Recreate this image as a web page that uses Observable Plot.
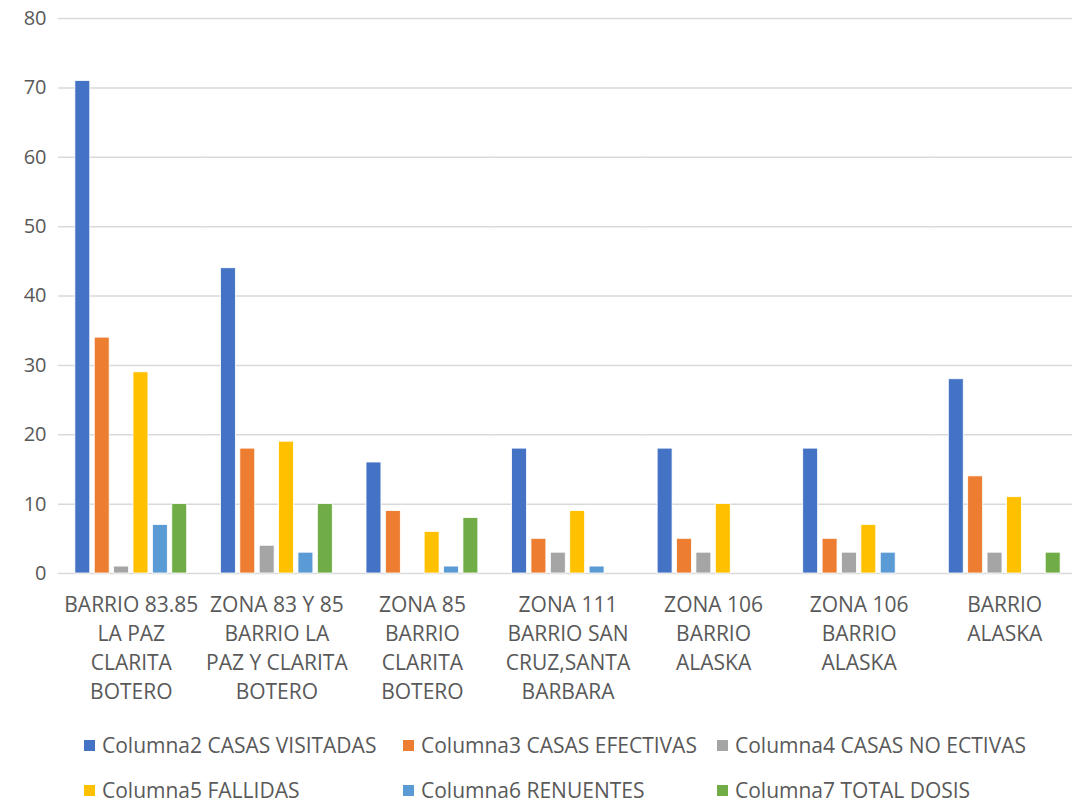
<!DOCTYPE html>
<html>
<head>
<meta charset="utf-8">
<script src="https://cdn.jsdelivr.net/npm/d3@7"></script>
<script src="https://cdn.jsdelivr.net/npm/@observablehq/plot@0.6"></script>
<style>
  html, body { margin: 0; background: #fff; font-family: "Open Sans", sans-serif; overflow: hidden; }
  #wrap { width: 1072px; overflow: hidden; }
  #legend { position: relative; width: 1072px; height: 91px; color: #595959; font-size: 21px; }
  .item { position: absolute; display: flex; align-items: center; white-space: nowrap; }
  .sw { width: 11px; height: 11px; margin-right: 7px; }
</style>
</head>
<body>
<div id="wrap"></div>
<script>
const categories = ["BARRIO 83.85 LA PAZ CLARITA BOTERO", "ZONA 83 Y 85 BARRIO LA PAZ Y CLARITA BOTERO", "ZONA 85 BARRIO CLARITA BOTERO", "ZONA 111 BARRIO SAN CRUZ,SANTA BARBARA", "ZONA 106 BARRIO ALASKA (1)", "ZONA 106 BARRIO ALASKA (2)", "BARRIO ALASKA"];
const tickLabels = ["BARRIO 83.85\nLA PAZ\nCLARITA\nBOTERO", "ZONA 83 Y 85\nBARRIO LA\nPAZ Y CLARITA\nBOTERO", "ZONA 85\nBARRIO\nCLARITA\nBOTERO", "ZONA 111\nBARRIO SAN\nCRUZ,SANTA\nBARBARA", "ZONA 106\nBARRIO\nALASKA", "ZONA 106\nBARRIO\nALASKA", "BARRIO\nALASKA"];
const seriesNames = ["Columna2 CASAS VISITADAS", "Columna3 CASAS EFECTIVAS", "Columna4 CASAS NO ECTIVAS", "Columna5 FALLIDAS", "Columna6 RENUENTES", "Columna7 TOTAL DOSIS"];
const colors = ["#4472C4", "#ED7D31", "#A5A5A5", "#FFC000", "#5B9BD5", "#70AD47"];
const casasVisitadas = [71, 44, 16, 18, 18, 18, 28];
const casasEfectivas = [34, 18, 9, 5, 5, 5, 14];
const casasNoEctivas = [1, 4, 0, 3, 3, 3, 3];
const fallidas = [29, 19, 6, 9, 10, 7, 11];
const renuentes = [7, 3, 1, 1, 0, 3, 0];
const totalDosis = [10, 10, 8, 0, 0, 0, 3];
const yTicks = [0, 10, 20, 30, 40, 50, 60, 70, 80];

const seriesValues = [casasVisitadas, casasEfectivas, casasNoEctivas, fallidas, renuentes, totalDosis];
const data = [];
categories.forEach((c, i) => seriesNames.forEach((s, j) => data.push({cat: c, series: s, value: seriesValues[j][i]})));

const chart = Plot.plot({
  width: 1078,
  height: 715,
  marginLeft: 58,
  marginRight: 1,
  marginTop: 18,
  marginBottom: 142,
  style: {fontFamily: "'Open Sans', sans-serif", background: "#fff", fontSize: "20px", overflow: "hidden", maxWidth: "none"},
  fx: {domain: categories, padding: 0, round: false, label: null, axis: null},
  x: {domain: seriesNames, paddingInner: 0.23, paddingOuter: 0.87, round: false, axis: null},
  y: {domain: [0, 80], label: null},
  color: {domain: seriesNames, range: colors},
  marks: [
    Plot.gridY(yTicks, {stroke: "#d9d9d9", strokeOpacity: 1, strokeWidth: 1.5}),
    Plot.axisY(yTicks, {tickSize: 0, tickPadding: 12, fontSize: 20, fill: "#595959", label: null}),
    Plot.barY(data, {fx: "cat", x: "series", y: "value", fill: "series", stroke: "#fff", strokeWidth: 0.8}),
    Plot.axisFx({anchor: "bottom", tickSize: 0, tickPadding: 18, fontSize: 21, fill: "#595959", lineHeight: 1.38, label: null,
      tickFormat: d => tickLabels[categories.indexOf(d)]})
  ]
});
chart.style.display = "block";
chart.style.maxWidth = "none";
chart.style.width = "1078px";
chart.style.height = "715px";
document.getElementById("wrap").appendChild(chart);

const legend = document.createElement("div");
legend.id = "legend";
const pos = [[84, 30], [403, 30], [717, 30], [84, 75], [403, 75], [717, 75]];
seriesNames.forEach((s, j) => {
  const it = document.createElement("div");
  it.className = "item";
  it.style.left = pos[j][0] + "px";
  it.style.top = (pos[j][1] - 14) + "px";
  it.style.height = "28px";
  const sw = document.createElement("span");
  sw.className = "sw";
  sw.style.background = colors[j];
  const tx = document.createElement("span");
  tx.textContent = s;
  it.appendChild(sw); it.appendChild(tx);
  legend.appendChild(it);
});
document.getElementById("wrap").appendChild(legend);
</script>
</body>
</html>
